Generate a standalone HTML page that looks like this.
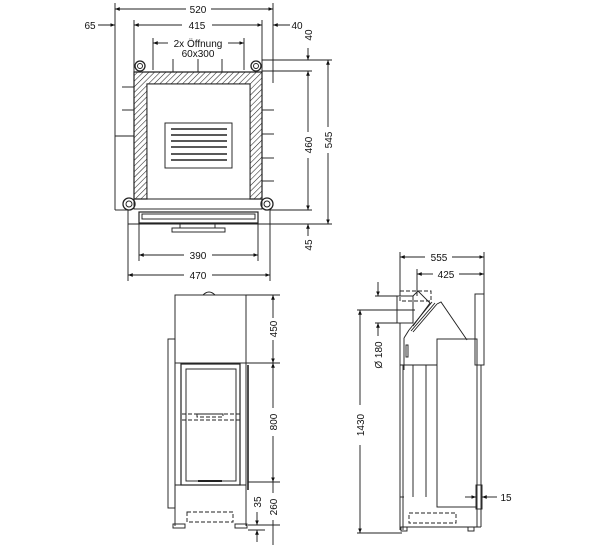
<!DOCTYPE html>
<html><head><meta charset="utf-8"><style>
html,body{margin:0;padding:0;background:#fff;}
svg{display:block;font-family:"Liberation Sans",sans-serif;}
text{font-size:10px;fill:#111;}
</style></head><body>
<svg width="600" height="550" viewBox="0 0 600 550" xmlns="http://www.w3.org/2000/svg">
<defs>
<pattern id="h" width="4" height="4" patternUnits="userSpaceOnUse" patternTransform="rotate(45)">
<rect width="4" height="4" fill="#fff"/><line x1="0" y1="0" x2="0" y2="4" stroke="#222" stroke-width="1.1"/></pattern>
<marker id="a" markerWidth="6" markerHeight="6" refX="5" refY="3" orient="auto-start-reverse"><path d="M0,1 L5,3 L0,5z" fill="#111"/></marker>
</defs>
<g stroke="#222" stroke-width="0.95" fill="none">
<line x1="115" y1="3" x2="115" y2="210"/>
<line x1="273" y1="3" x2="273" y2="83"/>
<line x1="134" y1="20" x2="134" y2="72"/>
<line x1="262" y1="20" x2="262" y2="72"/>
<line x1="153" y1="38" x2="153" y2="70"/>
<line x1="244" y1="38" x2="244" y2="70"/>
<line x1="173" y1="59" x2="173" y2="72"/><line x1="198" y1="59" x2="198" y2="72"/><line x1="222" y1="59" x2="222" y2="72"/>
<line x1="115" y1="9" x2="186" y2="9" marker-start="url(#a)"/><line x1="211" y1="9" x2="273" y2="9" marker-end="url(#a)"/>
<line x1="134" y1="25" x2="182" y2="25" marker-start="url(#a)"/><line x1="212" y1="25" x2="262" y2="25" marker-end="url(#a)"/>
<line x1="98" y1="25" x2="115" y2="25" marker-end="url(#a)"/>
<line x1="290" y1="25" x2="273" y2="25" marker-end="url(#a)"/>
<line x1="153" y1="43" x2="168" y2="43" marker-start="url(#a)"/><line x1="228" y1="43" x2="244" y2="43" marker-end="url(#a)"/>
<path d="M134,72 H262 V199 H250 V84 H147 V199 H134 Z" fill="url(#h)" stroke-width="1.2"/>
<rect x="147" y="84" width="103" height="115" fill="#fff"/>
<rect x="165" y="123" width="67" height="45"/>
<g stroke-width="1.4"><line x1="171" y1="129" x2="227" y2="129"/><line x1="171" y1="135" x2="227" y2="135"/><line x1="171" y1="141" x2="227" y2="141"/><line x1="171" y1="147" x2="227" y2="147"/><line x1="171" y1="154" x2="227" y2="154"/><line x1="171" y1="160" x2="227" y2="160"/></g>
<circle cx="140" cy="66" r="5" stroke-width="1.3"/><circle cx="140" cy="66" r="2.5"/>
<circle cx="256" cy="66" r="5" stroke-width="1.3"/><circle cx="256" cy="66" r="2.5"/>
<circle cx="129" cy="204" r="6" stroke-width="1.3"/><circle cx="129" cy="204" r="3"/>
<circle cx="267" cy="204" r="6" stroke-width="1.3"/><circle cx="267" cy="204" r="3"/>
<rect x="134" y="199" width="128" height="10"/>
<polyline points="115,136 134,136"/><line x1="115" y1="210" x2="128" y2="210"/>
<line x1="122" y1="87" x2="134" y2="87"/><line x1="122" y1="110" x2="134" y2="110"/>
<line x1="262" y1="110" x2="274" y2="110"/><line x1="262" y1="134" x2="274" y2="134"/><line x1="262" y1="158" x2="274" y2="158"/><line x1="262" y1="181" x2="274" y2="181"/>
<rect x="139" y="212" width="119" height="11" stroke-width="1.2"/><rect x="142" y="214" width="113" height="5"/>
<rect x="172" y="228" width="53" height="4"/><line x1="180" y1="223" x2="180" y2="228"/><line x1="215" y1="223" x2="215" y2="228"/>
<line x1="262" y1="60" x2="332" y2="60"/><line x1="262" y1="71" x2="312" y2="71"/>
<line x1="270" y1="210" x2="312" y2="210"/><line x1="128" y1="224" x2="332" y2="224"/>
<line x1="308" y1="48" x2="308" y2="60" marker-end="url(#a)"/>
<line x1="308" y1="71" x2="308" y2="132" marker-start="url(#a)"/><line x1="308" y1="158" x2="308" y2="210" marker-end="url(#a)"/>
<line x1="328" y1="60" x2="328" y2="127" marker-start="url(#a)"/><line x1="328" y1="153" x2="328" y2="224" marker-end="url(#a)"/>
<line x1="308" y1="236" x2="308" y2="224" marker-end="url(#a)"/>
<line x1="128" y1="210" x2="128" y2="281"/><line x1="270" y1="210" x2="270" y2="281"/>
<line x1="139" y1="223" x2="139" y2="261"/><line x1="258" y1="223" x2="258" y2="261"/>
<line x1="139" y1="255" x2="184" y2="255" marker-start="url(#a)"/><line x1="212" y1="255" x2="258" y2="255" marker-end="url(#a)"/>
<line x1="128" y1="275" x2="184" y2="275" marker-start="url(#a)"/><line x1="212" y1="275" x2="270" y2="275" marker-end="url(#a)"/>

<rect x="175" y="295" width="71" height="68"/>
<path d="M203,295 Q209,289 215,295"/>
<rect x="168" y="339" width="7" height="169"/>
<line x1="175" y1="363" x2="175" y2="526"/><line x1="246" y1="363" x2="246" y2="526"/>
<rect x="181" y="364" width="59" height="121" stroke-width="1.2"/>
<rect x="186" y="369" width="50" height="112"/>
<line x1="198" y1="481" x2="222" y2="481" stroke-width="2"/>
<line x1="248" y1="365" x2="248" y2="490" stroke-width="1.6"/>
<line x1="175" y1="485" x2="246" y2="485"/>
<g stroke-dasharray="4,2"><line x1="182" y1="414" x2="240" y2="414"/><line x1="182" y1="420" x2="240" y2="420"/><rect x="197" y="414" width="26" height="3"/>
<rect x="187" y="512" width="46" height="10"/></g>
<rect x="173" y="524" width="12" height="4"/><rect x="235" y="524" width="12" height="4"/>
<line x1="246" y1="295" x2="280" y2="295"/><line x1="246" y1="363" x2="280" y2="363"/>
<line x1="248" y1="482" x2="280" y2="482"/><line x1="248" y1="525" x2="280" y2="525"/><line x1="248" y1="530" x2="265" y2="530"/>
<line x1="273" y1="295" x2="273" y2="318" marker-start="url(#a)"/><line x1="273" y1="340" x2="273" y2="363" marker-end="url(#a)"/>
<line x1="273" y1="363" x2="273" y2="408" marker-start="url(#a)"/><line x1="273" y1="436" x2="273" y2="482" marker-end="url(#a)"/>
<line x1="273" y1="482" x2="273" y2="493"/><line x1="273" y1="520" x2="273" y2="545"/>
<line x1="257" y1="512" x2="257" y2="525" marker-end="url(#a)"/><line x1="257" y1="542" x2="257" y2="530" marker-end="url(#a)"/>

<line x1="400" y1="252" x2="400" y2="296"/><line x1="484" y1="252" x2="484" y2="294"/>
<line x1="417" y1="269" x2="417" y2="296"/>
<line x1="400" y1="257" x2="425" y2="257" marker-start="url(#a)"/><line x1="452" y1="257" x2="484" y2="257" marker-end="url(#a)"/>
<line x1="417" y1="274" x2="433" y2="274" marker-start="url(#a)"/><line x1="459" y1="274" x2="484" y2="274" marker-end="url(#a)"/>
<rect x="400" y="291" width="31" height="10" stroke-dasharray="4,2"/>
<rect x="397" y="296" width="16" height="27"/>
<line x1="375" y1="296" x2="397" y2="296"/><line x1="375" y1="323" x2="397" y2="323"/>
<line x1="378" y1="282" x2="378" y2="296" marker-end="url(#a)"/><line x1="378" y1="336" x2="378" y2="323" marker-end="url(#a)"/>
<line x1="357" y1="310" x2="415" y2="310"/><line x1="357" y1="533" x2="402" y2="533"/>
<line x1="360" y1="310" x2="360" y2="405" marker-start="url(#a)"/><line x1="360" y1="445" x2="360" y2="533" marker-end="url(#a)"/>
<path d="M413,296 L418,291 L430,303 L413,326"/>
<path d="M409,330 L432,302 M411,331 L435,303 M413,332 L437,304"/>
<path d="M437,304 L441,302 L467,340"/>
<path d="M404,338 L409,330"/>
<line x1="404" y1="338" x2="404" y2="370"/>
<rect x="406" y="345" width="2" height="12"/>
<rect x="437" y="339" width="40" height="168"/>
<line x1="400" y1="323" x2="400" y2="530"/><line x1="403" y1="365" x2="403" y2="530"/>
<line x1="400" y1="365" x2="437" y2="365"/>
<line x1="413" y1="365" x2="413" y2="497"/><line x1="426" y1="365" x2="426" y2="497"/>
<rect x="475" y="294" width="9" height="71"/>
<line x1="481" y1="365" x2="481" y2="527"/>
<rect x="476" y="485" width="6" height="24"/>
<line x1="400" y1="497" x2="404" y2="497"/>
<line x1="477" y1="507" x2="477" y2="527"/>
<rect x="409" y="513" width="47" height="10" stroke-dasharray="4,2"/>
<line x1="403" y1="527" x2="481" y2="527"/>
<rect x="401" y="527" width="6" height="4"/><rect x="468" y="527" width="6" height="4"/>
<line x1="465" y1="497" x2="476" y2="497" marker-end="url(#a)"/><line x1="497" y1="497" x2="482" y2="497" marker-end="url(#a)"/>
</g>
<g text-anchor="middle">
<text x="198" y="13">520</text>
<text x="197" y="29">415</text>
<text x="90" y="29">65</text>
<text x="297" y="29">40</text>
<text x="198" y="47">2x Öffnung</text>
<text x="198" y="57">60x300</text>
<text x="198" y="259">390</text>
<text x="198" y="279">470</text>
<text transform="translate(312,35) rotate(-90)">40</text>
<text transform="translate(312,145) rotate(-90)">460</text>
<text transform="translate(332,140) rotate(-90)">545</text>
<text transform="translate(312,245) rotate(-90)">45</text>
<text transform="translate(277,329) rotate(-90)">450</text>
<text transform="translate(277,422) rotate(-90)">800</text>
<text transform="translate(277,507) rotate(-90)">260</text>
<text transform="translate(261,502) rotate(-90)">35</text>
<text x="439" y="261">555</text>
<text x="446" y="278">425</text>
<text transform="translate(382,355) rotate(-90)">Ø 180</text>
<text transform="translate(364,425) rotate(-90)">1430</text>
<text x="506" y="501">15</text>
</g>
</svg>
</body></html>
